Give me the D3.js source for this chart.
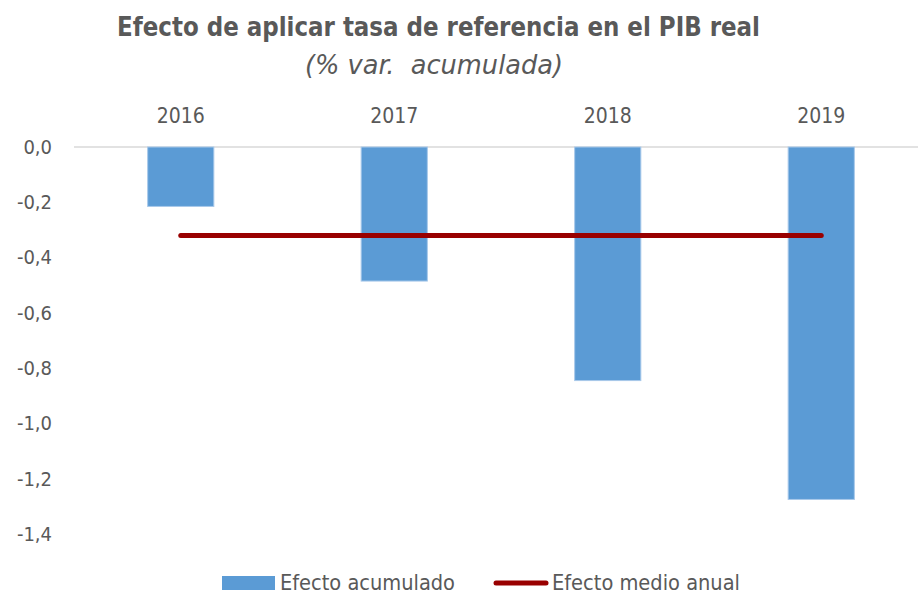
<!DOCTYPE html>
<html><head><meta charset="utf-8">
<script src="https://cdn.jsdelivr.net/npm/d3@7"></script>
<style>body{margin:0;background:#fff}svg{display:block}</style>
</head><body>
<svg id="c" width="918" height="594"></svg>
<script>
const categories = ["2016","2017","2018","2019"];
const acumulado = [-0.215, -0.485, -0.845, -1.275];
const medioAnual = [-0.32, -0.32, -0.32, -0.32];
const yTicks = [0, -0.2, -0.4, -0.6, -0.8, -1.0, -1.2, -1.4];
const seriesNames = ["Efecto acumulado", "Efecto medio anual"];

const FONT = "'DejaVu Sans Condensed','Liberation Sans',sans-serif";
const svg = d3.select("#c");
const x = d3.scaleBand().domain(categories).range([74, 928]).padding(0);
const y = d3.scaleLinear().domain([-1.4, 0]).range([534, 147]);
const txt = "#595959";

svg.append("text").attr("x", 117).attr("y", 36)
  .attr("font-family", FONT).attr("font-weight","bold").attr("font-size", 26).attr("fill", txt)
  .attr("textLength", 643).attr("lengthAdjust", "spacingAndGlyphs")
  .text("Efecto de aplicar tasa de referencia en el PIB real");
svg.append("text").attr("x", 305).attr("y", 74)
  .attr("font-family", FONT).attr("font-style","italic").attr("font-size", 27).attr("fill", txt)
  .attr("textLength", 258).attr("lengthAdjust", "spacingAndGlyphs")
  .attr("xml:space","preserve")
  .text("(% var.  acumulada)");

// gridline at zero
svg.append("line").attr("x1", 74).attr("x2", 918).attr("y1", y(0)).attr("y2", y(0))
  .attr("stroke", "#d9d9d9").attr("stroke-width", 1.5);

// y axis labels
const yAxis = d3.axisLeft(y).tickValues(yTicks).tickSize(0).tickPadding(0)
  .tickFormat(d => d3.format(".1f")(d).replace("−","-").replace(".", ","));
const ya = svg.append("g").attr("transform","translate(52,0)").call(yAxis);
ya.select(".domain").remove();
ya.selectAll("text").attr("font-family", FONT).attr("font-size", 20).attr("fill", txt);

// x axis labels on top
const xAxis = d3.axisTop(x).tickSize(0).tickPadding(0);
const xa = svg.append("g").attr("transform","translate(0,123)").call(xAxis);
xa.select(".domain").remove();
xa.selectAll("text").attr("font-family", FONT).attr("font-size", 21).attr("fill", txt).attr("dy", 0);

// bars
const bw = x.bandwidth() * 0.31;
svg.append("g").selectAll("rect").data(categories).join("rect")
  .attr("x", (d) => x(d) + x.bandwidth()/2 - bw/2)
  .attr("y", y(0))
  .attr("width", bw)
  .attr("height", (d,i) => y(acumulado[i]) - y(0))
  .attr("fill", "#5b9bd5").attr("stroke", "#a9c9ea").attr("stroke-width", 1);

// line
const line = d3.line().x((d,i) => x(categories[i]) + x.bandwidth()/2).y(d => y(d));
svg.append("path").datum(medioAnual).attr("d", line)
  .attr("fill","none").attr("stroke","#990000").attr("stroke-width", 5).attr("stroke-linecap","round");

// legend
const lg = svg.append("g");
lg.append("rect").attr("x", 222).attr("y", 576).attr("width", 53).attr("height", 14).attr("fill", "#5b9bd5");
lg.append("text").attr("x", 280).attr("y", 590).attr("font-family", FONT).attr("font-size", 21).attr("fill", txt)
  .attr("textLength", 175).attr("lengthAdjust", "spacingAndGlyphs").text(seriesNames[0]);
lg.append("line").attr("x1", 496).attr("x2", 546).attr("y1", 583).attr("y2", 583)
  .attr("stroke", "#990000").attr("stroke-width", 5).attr("stroke-linecap","round");
lg.append("text").attr("x", 552).attr("y", 590).attr("font-family", FONT).attr("font-size", 21).attr("fill", txt)
  .attr("textLength", 188).attr("lengthAdjust", "spacingAndGlyphs").text(seriesNames[1]);
</script>
</body></html>
